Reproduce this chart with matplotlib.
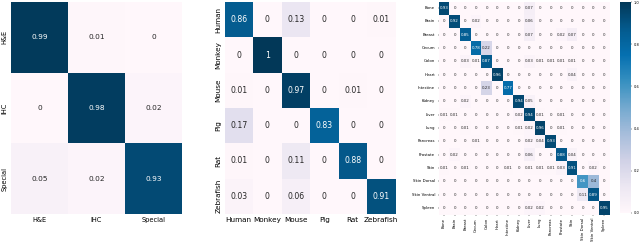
import matplotlib
matplotlib.use("Agg")
import matplotlib.pyplot as plt
import seaborn as sns
import numpy as np

# panel 1: stain type
stain_labels = ['H&E', 'IHC', 'Special']
stain_cm = [
    [0.99, 0.01, 0],
    [0, 0.98, 0.02],
    [0.05, 0.02, 0.93],
]

# panel 2: species
species_labels = ['Human', 'Monkey', 'Mouse', 'Pig', 'Rat', 'Zebrafish']
species_cm = [
    [0.86, 0, 0.13, 0, 0, 0.01],
    [0, 1, 0, 0, 0, 0],
    [0.01, 0, 0.97, 0, 0.01, 0],
    [0.17, 0, 0, 0.83, 0, 0],
    [0.01, 0, 0.11, 0, 0.88, 0],
    [0.03, 0, 0.06, 0, 0, 0.91],
]

# panel 3: organ
organ_labels = ['Bone', 'Brain', 'Breast', 'Cecum', 'Colon', 'Heart', 'Intestine',
                'Kidney', 'Liver', 'Lung', 'Pancreas', 'Prostate', 'Skin',
                'Skin Dorsal', 'Skin Ventral', 'Spleen']
organ_cm = [
    [0.93, 0, 0, 0, 0, 0, 0, 0, 0.07, 0, 0, 0, 0, 0, 0, 0],
    [0, 0.92, 0, 0.02, 0, 0, 0, 0, 0.06, 0, 0, 0, 0, 0, 0, 0],
    [0, 0, 0.85, 0, 0, 0, 0, 0, 0.07, 0, 0, 0.02, 0.07, 0, 0, 0],
    [0, 0, 0, 0.78, 0.22, 0, 0, 0, 0, 0, 0, 0, 0, 0, 0, 0],
    [0, 0, 0.03, 0.01, 0.87, 0, 0, 0, 0.03, 0.01, 0.01, 0.01, 0.01, 0, 0, 0],
    [0, 0, 0, 0, 0, 0.96, 0, 0, 0, 0, 0, 0, 0.04, 0, 0, 0],
    [0, 0, 0, 0, 0.23, 0, 0.77, 0, 0, 0, 0, 0, 0, 0, 0, 0],
    [0, 0, 0.02, 0, 0, 0, 0, 0.94, 0.05, 0, 0, 0, 0, 0, 0, 0],
    [0.01, 0.01, 0, 0, 0, 0, 0, 0.02, 0.94, 0.01, 0, 0.01, 0, 0, 0, 0],
    [0, 0, 0.01, 0, 0, 0, 0, 0.01, 0.02, 0.96, 0, 0.01, 0, 0, 0, 0],
    [0, 0, 0, 0.01, 0, 0, 0, 0, 0.02, 0.04, 0.93, 0, 0, 0, 0, 0],
    [0, 0.02, 0, 0, 0, 0, 0, 0, 0.06, 0, 0, 0.88, 0.04, 0, 0, 0],
    [0.01, 0, 0.01, 0, 0, 0, 0.01, 0, 0.01, 0.01, 0.01, 0.03, 0.91, 0, 0.02, 0],
    [0, 0, 0, 0, 0, 0, 0, 0, 0, 0, 0, 0, 0, 0.6, 0.4, 0],
    [0, 0, 0, 0, 0, 0, 0, 0, 0, 0, 0, 0, 0, 0.11, 0.89, 0],
    [0, 0, 0, 0, 0, 0, 0, 0, 0.02, 0.02, 0, 0, 0, 0, 0, 0.95],
]

fig = plt.figure(figsize=(6.4, 2.44), dpi=100)
W, H = 640, 244


def px_axes(x0, y0, x1, y1):
    # pixel box (top-left origin) -> figure axes
    return fig.add_axes([x0 / W, 1 - y1 / H, (x1 - x0) / W, (y1 - y0) / H])


ax1 = px_axes(11, 2, 182, 214)
ax2 = px_axes(224.5, 2, 395.5, 214)
ax3 = px_axes(438.5, 1.5, 609.5, 214.5)
cax = px_axes(620, 2, 631, 213)

sns.heatmap(np.array(stain_cm), ax=ax1, cmap='PuBu', vmin=0, vmax=1, annot=True,
            cbar=False, xticklabels=stain_labels, yticklabels=stain_labels,
            annot_kws={'fontsize': 5.3})
sns.heatmap(np.array(species_cm), ax=ax2, cmap='PuBu', vmin=0, vmax=1, annot=True,
            cbar=False, xticklabels=species_labels, yticklabels=species_labels,
            annot_kws={'fontsize': 5.6})
sns.heatmap(np.array(organ_cm), ax=ax3, cmap='PuBu', vmin=0, vmax=1, annot=True,
            cbar_ax=cax, xticklabels=organ_labels, yticklabels=organ_labels,
            annot_kws={'fontsize': 2.9})

ax1.tick_params(axis='both', length=0, labelsize=4.8, pad=2.5)
ax2.tick_params(axis='both', length=0, labelsize=5.2, pad=2)
for ax in (ax1, ax2):
    ax.set_xticklabels(ax.get_xticklabels(), rotation=0)
    ax.set_yticklabels(ax.get_yticklabels(), rotation=90, va='center')

ax3.tick_params(axis='both', length=1, width=0.3, labelsize=2.8, pad=1.5)
ax3.set_xticklabels(ax3.get_xticklabels(), rotation=90)
ax3.set_yticklabels(ax3.get_yticklabels(), rotation=0)

cax.tick_params(length=1, width=0.3, labelsize=2.6, pad=1)
cax.set_yticks([0, 0.2, 0.4, 0.6, 0.8, 1.0])
for s in cax.spines.values():
    s.set_visible(False)

fig.savefig('out.png', dpi=100)
